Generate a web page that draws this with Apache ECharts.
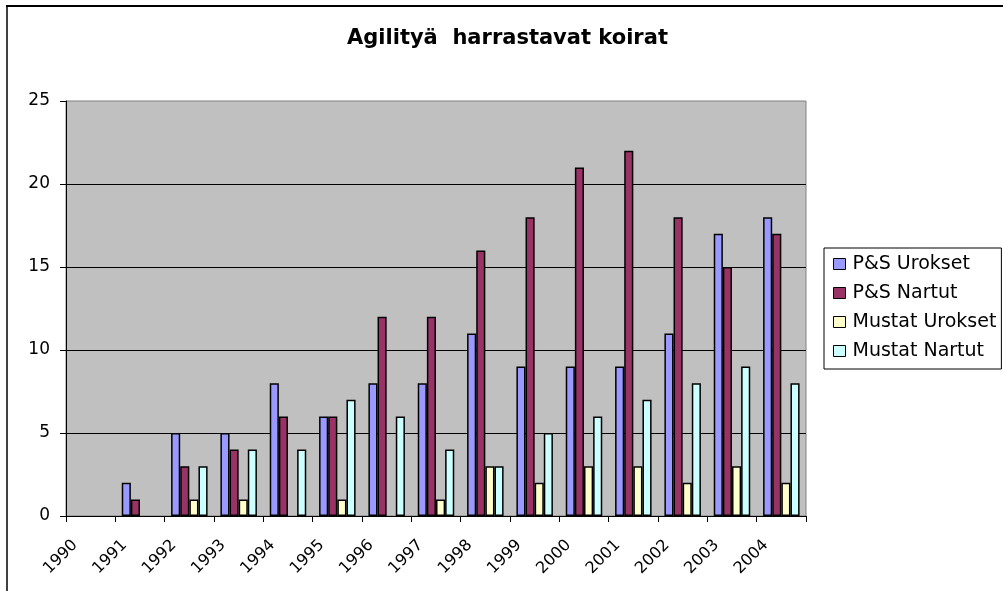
<!DOCTYPE html>
<html>
<head>
    <meta charset="UTF-8">
    <title>Agilityä harrastavat koirat</title>
    <script type="text/javascript" src="https://cdn.jsdelivr.net/npm/echarts@6/dist/echarts.min.js"></script>
    <style>
        html, body { margin: 0; padding: 0; background: #fff; }
        #main { width: 1003px; height: 591px; }
    </style>
</head>
<body>
<div id="main"></div>

<script type="text/javascript">
    // vuodet ja sarjat luettu kuvasta
    var years = ['1990', '1991', '1992', '1993', '1994', '1995', '1996', '1997',
                 '1998', '1999', '2000', '2001', '2002', '2003', '2004'];
    var psUrokset     = [null, 2, 5, 5, 8, 6, 8, 8, 11, 9, 9, 9, 11, 17, 18];
    var psNartut      = [null, 1, 3, 4, 6, 6, 12, 12, 16, 18, 21, 22, 18, 15, 17];
    var mustatUrokset = [null, null, 1, 1, null, 1, null, 1, 3, 2, 3, 3, 2, 3, 2];
    var mustatNartut  = [null, null, 3, 4, 4, 7, 6, 4, 3, 5, 6, 7, 8, 9, 8];
    var yTicks = [0, 5, 10, 15, 20, 25];

    var font = '"DejaVu Sans", sans-serif';

    function bar(name, data, color) {
        return {
            name: name,
            type: 'bar',
            data: data,
            barGap: '0%',
            barCategoryGap: '26%',
            itemStyle: { color: color, borderColor: '#000', borderWidth: 1.5 }
        };
    }

    var myChart = echarts.init(document.getElementById('main'));
    var option = {
        animation: false,
        backgroundColor: '#fff',
        title: {
            text: 'Agilityä  harrastavat koirat',
            left: 347,
            top: 28,
            padding: 0,
            textStyle: { fontFamily: font, fontSize: 21, fontWeight: 'bold', color: '#000' }
        },
        legend: {
            orient: 'vertical',
            left: 824,
            top: 248,
            padding: [6, 5, 8, 9],
            itemGap: 9,
            itemWidth: 12,
            itemHeight: 11,
            borderColor: '#000',
            borderWidth: 1,
            backgroundColor: '#fff',
            icon: 'rect',
            itemStyle: { borderColor: '#000', borderWidth: 1 },
            textStyle: { fontFamily: font, fontSize: 19, lineHeight: 20, color: '#000', padding: [0, 0, 0, 2] },
            data: ['P&S Urokset', 'P&S Nartut', 'Mustat Urokset', 'Mustat Nartut']
        },
        graphic: [
            { type: 'line', shape: { x1: 7, y1: 6, x2: 7, y2: 591 }, style: { stroke: '#404040', lineWidth: 2 } },
            { type: 'line', shape: { x1: 6, y1: 6, x2: 1003, y2: 6 }, style: { stroke: '#000', lineWidth: 2 } }
        ],
        grid: {
            left: 66,
            right: 197,
            top: 101,
            bottom: 75,
            show: true,
            backgroundColor: '#C0C0C0',
            borderColor: '#808080',
            borderWidth: 1
        },
        xAxis: {
            type: 'category',
            data: years,
            boundaryGap: true,
            axisLine: { lineStyle: { color: '#000', width: 1 } },
            axisTick: { show: true, length: 6, lineStyle: { color: '#000' } },
            axisLabel: {
                rotate: 45,
                interval: 0,
                margin: 11,
                padding: [0, 22, 0, 0],
                fontFamily: font,
                fontSize: 16,
                color: '#000'
            }
        },
        yAxis: {
            type: 'value',
            min: yTicks[0],
            max: yTicks[yTicks.length - 1],
            interval: 5,
            axisLine: { show: true, lineStyle: { color: '#000', width: 1 } },
            axisTick: { show: true, length: 6, lineStyle: { color: '#000' } },
            axisLabel: { margin: 16, fontFamily: font, fontSize: 17, color: '#000' },
            splitLine: { show: true, showMinLine: false, showMaxLine: false, lineStyle: { color: '#000', width: 1 } }
        },
        series: [
            bar('P&S Urokset', psUrokset, '#9999FF'),
            bar('P&S Nartut', psNartut, '#993366'),
            bar('Mustat Urokset', mustatUrokset, '#FFFFCC'),
            bar('Mustat Nartut', mustatNartut, '#CCFFFF')
        ]
    };
    myChart.setOption(option);
</script>
</body>
</html>
